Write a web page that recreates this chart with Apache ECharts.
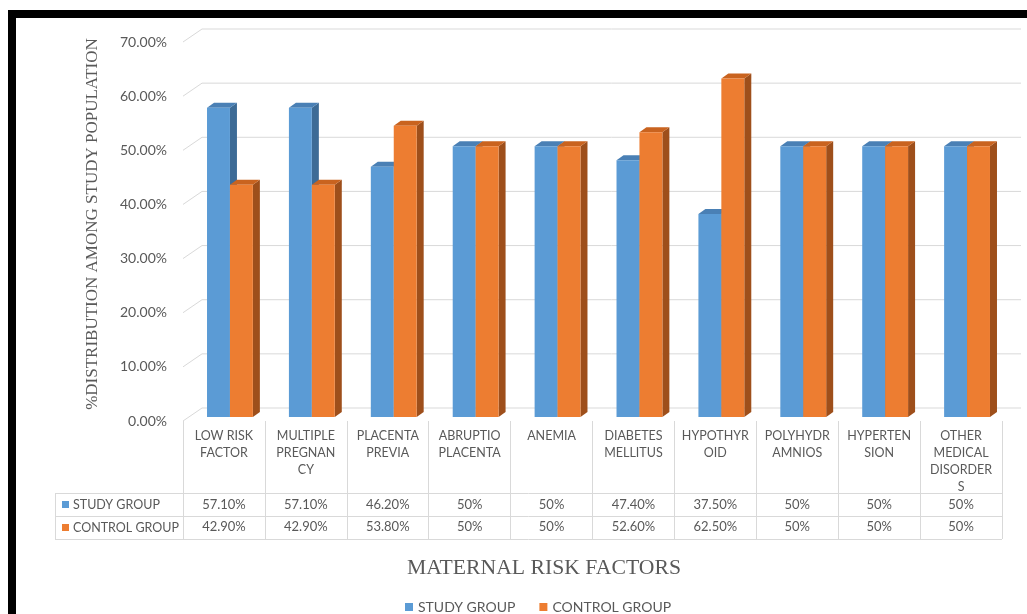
<!DOCTYPE html>
<html>
<head>
<meta charset="utf-8">
<script src="https://cdn.jsdelivr.net/npm/echarts@6/dist/echarts.min.js"></script>
<style>
html,body{margin:0;padding:0;background:#fff;}
#chart{width:1027px;height:614px;}
</style>
</head>
<body>
<div id="chart"></div>
<script>
// ---- data ----
var categoryLabels = ['LOW RISK\nFACTOR', 'MULTIPLE\nPREGNAN\nCY', 'PLACENTA\nPREVIA', 'ABRUPTIO\nPLACENTA', 'ANEMIA',
  'DIABETES\nMELLITUS', 'HYPOTHYR\nOID', 'POLYHYDR\nAMNIOS', 'HYPERTEN\nSION', 'OTHER\nMEDICAL\nDISORDER\nS'];
var studyValues = [57.1, 57.1, 46.2, 50, 50, 47.4, 37.5, 50, 50, 50];
var controlValues = [42.9, 42.9, 53.8, 50, 50, 52.6, 62.5, 50, 50, 50];
var studyLabels = ['57.10%', '57.10%', '46.20%', '50%', '50%', '47.40%', '37.50%', '50%', '50%', '50%'];
var controlLabels = ['42.90%', '42.90%', '53.80%', '50%', '50%', '52.60%', '62.50%', '50%', '50%', '50%'];
var yTicks = [0, 10, 20, 30, 40, 50, 60, 70];
var seriesNames = ['STUDY GROUP', 'CONTROL GROUP'];

// ---- styles ----
var TXT = '#595959';
var GRID = '#d9d9d9';
var SANS = 'Lato';
var SERIF = 'Liberation Serif';
var colors = [
  {front: '#5B9BD5', side: '#3D6B96', top: '#4A80B5'},
  {front: '#ED7D31', side: '#9E4F1B', top: '#C9631F'}
];
var WALL_DX = 19, WALL_DY = -13;   // back wall offset
var BAR_DX = 6, BAR_DY = -4;       // bar depth position
var DEP_X = 7, DEP_Y = -5;         // bar depth size

function barRender(si) {
  return function (params, api) {
    var idx = api.value(0), v = api.value(1);
    var base = api.coord([idx, 0]);
    var top = api.coord([idx, v]);
    var bw = api.size([1, 0])[0];
    var w = bw * 0.28;
    var x0 = base[0] + (si === 0 ? -w : 0) + BAR_DX;
    var yb = base[1] + BAR_DY, yt = top[1] + BAR_DY;
    var c = colors[si];
    return {
      type: 'group',
      children: [
        {type: 'polygon', shape: {points: [[x0 + w, yt], [x0 + w + DEP_X, yt + DEP_Y], [x0 + w + DEP_X, yb + DEP_Y], [x0 + w, yb]]},
          style: {fill: c.side}},
        {type: 'polygon', shape: {points: [[x0, yt], [x0 + DEP_X, yt + DEP_Y], [x0 + w + DEP_X, yt + DEP_Y], [x0 + w, yt]]},
          style: {fill: c.top}},
        {type: 'rect', shape: {x: x0, y: yt, width: w, height: yb - yt}, style: {fill: c.front}}
      ]
    };
  };
}

function gridRender(params, api) {
  var v = api.value(1);
  var first = api.coord([0, v]);
  var last = api.coord([categoryLabels.length - 1, v]);
  var bw = api.size([1, 0])[0];
  var l = first[0] - bw / 2, r = last[0] + bw / 2, y = first[1];
  return {
    type: 'polyline',
    shape: {points: [[l, y], [l + WALL_DX, y + WALL_DY], [r + WALL_DX, y + WALL_DY]]},
    style: {stroke: GRID, lineWidth: 1, fill: null}
  };
}

var chart = echarts.init(document.getElementById('chart'), null, {renderer: 'canvas'});
var option = {
  backgroundColor: '#fff',
  animation: false,
  grid: {left: 183, right: 25, top: 42, bottom: 193, containLabel: false},
  legend: {
    left: 400, top: 595,
    itemWidth: 8, itemHeight: 8, itemGap: 24,
    icon: 'rect',
    textStyle: {color: TXT, fontFamily: SANS, fontSize: 14},
    data: seriesNames
  },
  xAxis: [
    {
      type: 'category', data: categoryLabels, position: 'bottom',
      axisLine: {show: false},
      axisTick: {show: true, length: 118, interval: 0, lineStyle: {color: GRID}},
      axisLabel: {interval: 0, color: TXT, fontFamily: SANS, fontSize: 12.5, lineHeight: 17, margin: 6, verticalAlign: 'top'},
      splitLine: {show: false}
    },
    {
      type: 'category', data: studyLabels, position: 'bottom', offset: 84,
      axisLine: {show: false}, axisTick: {show: false},
      axisLabel: {interval: 0, color: TXT, fontFamily: SANS, fontSize: 13, margin: 0, verticalAlign: 'middle'}
    },
    {
      type: 'category', data: controlLabels, position: 'bottom', offset: 106,
      axisLine: {show: false}, axisTick: {show: false},
      axisLabel: {interval: 0, color: TXT, fontFamily: SANS, fontSize: 13, margin: 0, verticalAlign: 'middle'}
    }
  ],
  yAxis: {
    type: 'value', min: 0, max: 70, interval: 10,
    axisLine: {show: false}, axisTick: {show: false}, splitLine: {show: false},
    axisLabel: {color: TXT, fontFamily: SANS, fontSize: 14, margin: 16, formatter: function (v) { return v.toFixed(2) + '%'; }}
  },
  series: [
    {
      type: 'custom', name: '_grid', silent: true, z: 1,
      renderItem: gridRender,
      data: yTicks.map(function (t) { return [0, t]; }),
      encode: {x: 0, y: 1}
    },
    {
      type: 'custom', name: seriesNames[0], z: 2,
      itemStyle: {color: colors[0].front},
      renderItem: barRender(0),
      data: studyValues.map(function (v, i) { return [i, v]; }),
      encode: {x: 0, y: 1}
    },
    {
      type: 'custom', name: seriesNames[1], z: 3,
      itemStyle: {color: colors[1].front},
      renderItem: barRender(1),
      data: controlValues.map(function (v, i) { return [i, v]; }),
      encode: {x: 0, y: 1}
    }
  ],
  graphic: [
    // frame
    {type: 'rect', z: 100, shape: {x: 8, y: 10, width: 1019, height: 8}, style: {fill: '#000'}},
    {type: 'rect', z: 100, shape: {x: 8, y: 10, width: 8, height: 604}, style: {fill: '#000'}},
    // data table lines
    {type: 'line', shape: {x1: 55, y1: 493.5, x2: 1002, y2: 493.5}, style: {stroke: GRID, lineWidth: 1}},
    {type: 'line', shape: {x1: 55, y1: 516.5, x2: 1002, y2: 516.5}, style: {stroke: GRID, lineWidth: 1}},
    {type: 'line', shape: {x1: 55, y1: 539.5, x2: 1002, y2: 539.5}, style: {stroke: GRID, lineWidth: 1}},
    {type: 'line', shape: {x1: 55.5, y1: 493, x2: 55.5, y2: 540}, style: {stroke: GRID, lineWidth: 1}},
    // row headers
    {type: 'rect', shape: {x: 62, y: 501, width: 7, height: 7}, style: {fill: colors[0].front}},
    {type: 'text', x: 73, y: 505, style: {text: seriesNames[0], fill: TXT, font: '12.5px ' + SANS, verticalAlign: 'middle'}},
    {type: 'rect', shape: {x: 62, y: 524, width: 7, height: 7}, style: {fill: colors[1].front}},
    {type: 'text', x: 73, y: 528, style: {text: seriesNames[1], fill: TXT, font: '12.5px ' + SANS, verticalAlign: 'middle'}},
    // axis titles
    {type: 'text', x: 93, y: 224, rotation: Math.PI / 2,
      style: {text: '%DISTRIBUTION AMONG STUDY POPULATION', fill: TXT, font: '17px "' + SERIF + '"', align: 'center', verticalAlign: 'middle'}},
    {type: 'text', x: 544, y: 568,
      style: {text: 'MATERNAL RISK FACTORS', fill: TXT, font: '21.7px "' + SERIF + '"', align: 'center', verticalAlign: 'middle'}}
  ]
};
chart.setOption(option);
</script>
</body>
</html>
